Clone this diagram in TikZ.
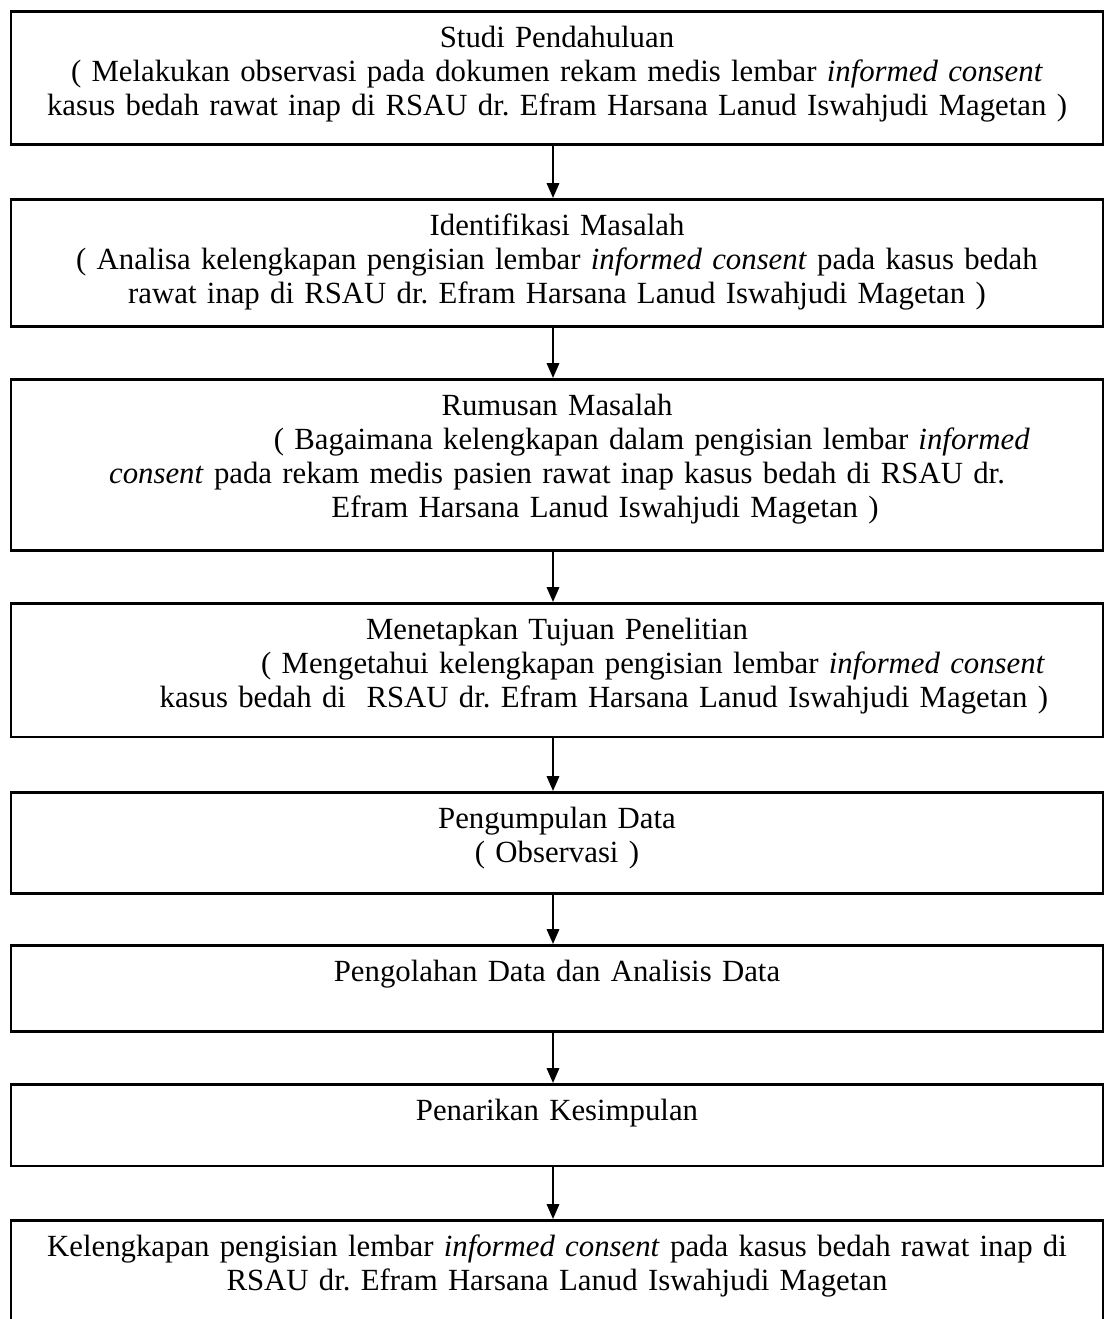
\documentclass[tikz,border=0pt]{standalone}
\usepackage{fontspec}
\setmainfont{Liberation Serif}
\usetikzlibrary{arrows.meta}

\tikzset{
  flowbox/.style={draw, line width=1.1pt, anchor=north, text width=436pt,
    inner xsep=3.7pt, inner ysep=6.7pt, text height=8.1pt, align=center,
    font=\fontsize{12.5}{13.8}\selectfont\frenchspacing},
  flowarrow/.style={line width=0.8pt, -{Triangle[length=6pt,width=5pt]}}
}

\begin{document}
\begin{tikzpicture}[x=0.406pt, y=-0.406pt]%
   \useasboundingbox (0,0) rectangle (1109,1319);
   \node[flowbox, text depth=32.7pt] (studi) at (557,10) {Studi Pendahuluan\\
      ( Melakukan observasi pada dokumen rekam medis lembar \textit{informed consent}\\
      kasus bedah rawat inap di RSAU dr. Efram Harsana Lanud Iswahjudi Magetan )};
   \node[flowbox, text depth=30.2pt] (identifikasi) at (557,198) {Identifikasi Masalah\\
      ( Analisa kelengkapan pengisian lembar \textit{informed consent} pada kasus bedah\\
      rawat inap di RSAU dr. Efram Harsana Lanud Iswahjudi Magetan )};
   \node[flowbox, text depth=48.1pt] (rumusan) at (557,378) {Rumusan Masalah\\
      \hspace*{77pt}( Bagaimana kelengkapan dalam pengisian lembar \textit{informed}\\
      \textit{consent} pada rekam medis pasien rawat inap kasus bedah di RSAU dr.\\
      \hspace*{39pt}Efram Harsana Lanud Iswahjudi Magetan )};
   \node[flowbox, text depth=32.7pt] (tujuan) at (557,602) {Menetapkan Tujuan Penelitian\\
      \hspace*{78pt}( Mengetahui kelengkapan pengisian lembar \textit{informed consent}\\
      \hspace*{38pt}kasus bedah di\ \ RSAU dr. Efram Harsana Lanud Iswahjudi Magetan )};
   \node[flowbox, text depth=19.7pt] (pengumpulan) at (557,791) {Pengumpulan Data\\
      ( Observasi )};
   \node[flowbox, text depth=13.6pt] (pengolahan) at (557,944) {Pengolahan Data dan Analisis Data};
   \node[flowbox, text depth=11.6pt] (penarikan) at (557,1083) {Penarikan Kesimpulan};
   \node[flowbox, text depth=20pt] (hasil) at (557,1219) {Kelengkapan pengisian lembar \textit{informed consent} pada kasus bedah rawat inap di\\
      RSAU dr. Efram Harsana Lanud Iswahjudi Magetan};
   \coordinate (garis) at (553,0);
   \draw[flowarrow] (studi.south -| garis) -- (identifikasi.north -| garis);
   \draw[flowarrow] (identifikasi.south -| garis) -- (rumusan.north -| garis);
   \draw[flowarrow] (rumusan.south -| garis) -- (tujuan.north -| garis);
   \draw[flowarrow] (tujuan.south -| garis) -- (pengumpulan.north -| garis);
   \draw[flowarrow] (pengumpulan.south -| garis) -- (pengolahan.north -| garis);
   \draw[flowarrow] (pengolahan.south -| garis) -- (penarikan.north -| garis);
   \draw[flowarrow] (penarikan.south -| garis) -- (hasil.north -| garis);
\end{tikzpicture}
\end{document}
